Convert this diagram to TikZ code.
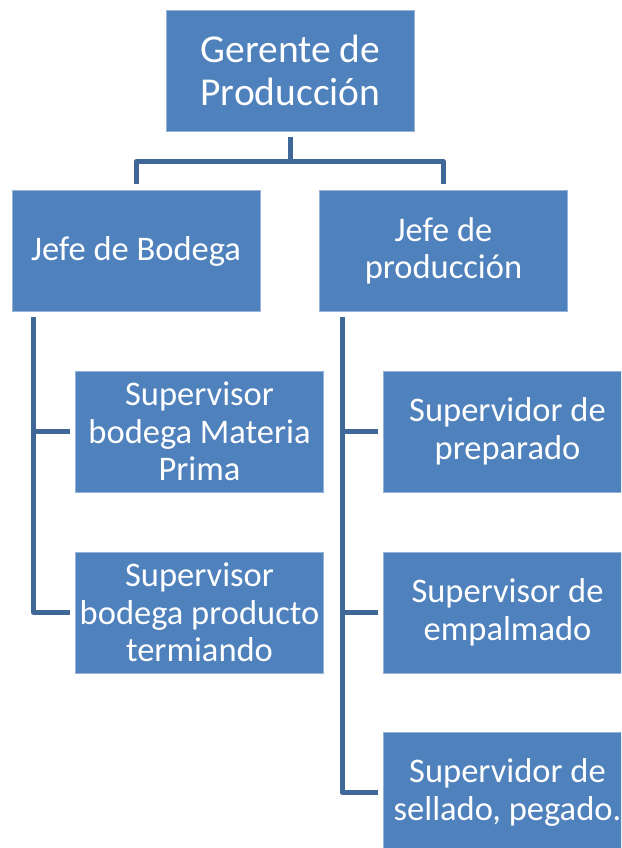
\documentclass[tikz,border=0pt]{standalone}
\usepackage{fontspec}
\setmainfont{Carlito}
\usetikzlibrary{calc}
\definecolor{boxblue}{HTML}{4F81BD}
\definecolor{linkblue}{HTML}{3F6899}
\begin{document}
\begin{tikzpicture}[x=1pt,y=-1pt,
  orgbox/.style={rectangle, fill=boxblue, draw=boxblue!60!white, line width=0.6pt,
    minimum width=248pt, minimum height=121pt, inner sep=0pt, text=white, align=center,
    font=\fontsize{34.5}{37.5}\selectfont},
  topbox/.style={orgbox, font=\fontsize{39.5}{43}\selectfont},
  conn/.style={draw=linkblue, line width=5pt, line join=round, line cap=butt}]
\path[use as bounding box, clip] (0,0) rectangle (621,848);
\node[topbox] (ger) at (290.5,70.5) {Gerente de\\Producción};
\node[orgbox] (jb) at (136,251) {Jefe de Bodega};
\node[orgbox] (jp) at (443.5,251) {Jefe de\\producción};
\node[orgbox] (sl1) at (199.5,431.5) {Supervisor\\bodega Materia\\Prima};
\node[orgbox] (sl2) at (199.5,612.5) {Supervisor\\bodega producto\\termiando};
\node[orgbox] (sr1) at (507.5,431.5) {Supervidor de\\preparado};
\node[orgbox] (sr2) at (507.5,612.5) {Supervisor de\\empalmado};
\node[orgbox] (sr3) at (507.5,792.5) {Supervidor de\\sellado, pegado.};
% top connectors
\coordinate (hub) at ($(ger.south)+(0,30)$);
\draw[conn, shorten <=6pt, shorten >=6pt] (ger.south) -- (hub) -| (jb.north);
\draw[conn, shorten >=6pt] (hub) -| (jp.north);
% left trunk
\coordinate (lt) at ($(jb.south west)+(22,0)$);
\draw[conn, shorten <=5pt, shorten >=5pt] (lt) |- (sl2.west);
\draw[conn, shorten <=5pt] (sl1.west) -- (sl1.west -| lt);
% right trunk
\coordinate (rt) at ($(jp.south west)+(23,0)$);
\draw[conn, shorten <=5pt, shorten >=5pt] (rt) |- (sr3.west);
\draw[conn, shorten <=5pt] (sr1.west) -- (sr1.west -| rt);
\draw[conn, shorten <=5pt] (sr2.west) -- (sr2.west -| rt);
\end{tikzpicture}
\end{document}
